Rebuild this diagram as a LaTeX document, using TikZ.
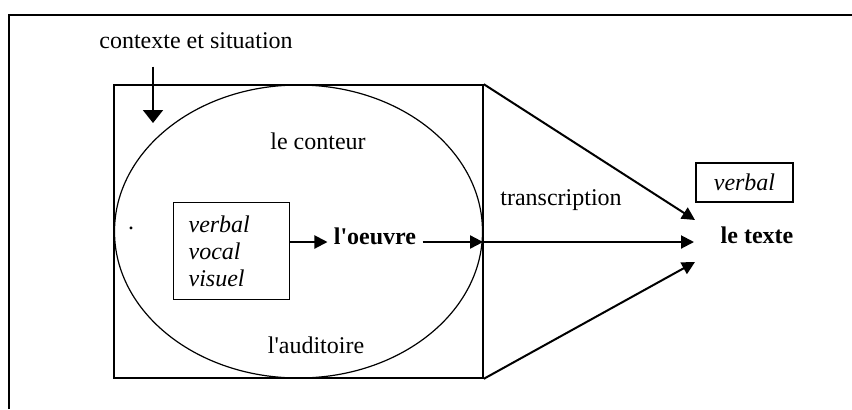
\documentclass[tikz,border=0pt]{standalone}
\usepackage{fontspec}
\setmainfont{Liberation Serif}[Ligatures=TeXOff]
\usetikzlibrary{arrows.meta}
\usetikzlibrary{shapes.geometric}

\begin{document}
\begin{tikzpicture}[x=0.5pt,y=-0.5pt,
  flow/.style={line width=1pt,-{Triangle[length=6.5pt,width=6.5pt]}},
  lbl/.style={font=\fontsize{12}{13.5}\selectfont, inner sep=3pt},
  boxed/.style={draw, line width=0.6pt}]
\useasboundingbox (0,0) rectangle (852,409);
% page frame
\draw[line width=0.9pt] (9,409) -- (9,15) -- (852,15);
\node[lbl, anchor=base] (ctx) at (196,48) {contexte et situation};
\node[draw, line width=0.8pt, minimum width=184.5pt, minimum height=146.5pt] (scene) at (298.5,231.5) {};
\node[ellipse, boxed, minimum width=184pt, minimum height=146.5pt] (oval) at (298.5,231.5) {};
\node[lbl] (conteur) at (318,141) {le conteur};
\node[lbl] (audit) at (316,345) {l'auditoire};
\node[lbl, anchor=base] (dot) at (131,229) {.};
\node[boxed, lbl, align=left, text width=43pt, inner xsep=7.5pt, minimum height=48.5pt, anchor=north west] (modes) at (173,202)
  {\textit{verbal}\\\textit{vocal}\\\textit{visuel}};
\node[lbl, font=\fontsize{12}{13.5}\selectfont\bfseries, anchor=base] (oeuvre) at (375,244) {l'oeuvre};
\node[lbl, anchor=base] (trans) at (561,205) {transcription};
\node[boxed, lbl, minimum width=48.5pt, minimum height=19.5pt] (vbox) at (744.5,182.5) {\textit{verbal}};
\node[lbl, font=\fontsize{12}{13.5}\selectfont\bfseries, anchor=base] (texte) at (757,243) {le texte};
\coordinate (axis) at (0,242);
\coordinate (drop) at (153,123);
\coordinate (tipA) at (695,220);
\coordinate (tipB) at (694,242);
\coordinate (tipC) at (695,262);
% arrows
\draw[flow, -{Triangle[length=6.5pt,width=10pt]}, shorten <=6pt] (ctx.south -| drop) -- (drop);
\draw[flow] (modes.east |- axis) -- (oeuvre.west |- axis);
\draw[flow] (oeuvre.east |- axis) -- (oval.east |- axis);
\draw[flow] (oval.east |- axis) -- (tipB);
\draw[flow] (scene.north east) -- (tipA);
\draw[flow] (scene.south east) -- (tipC);
\end{tikzpicture}
\end{document}
